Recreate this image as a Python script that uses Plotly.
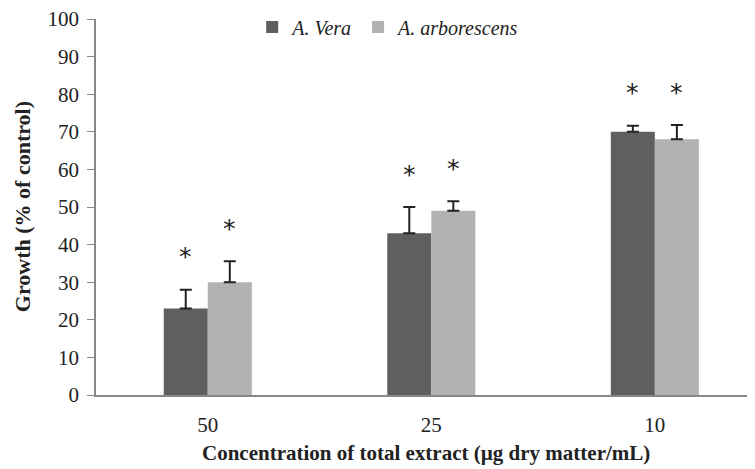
import plotly.graph_objects as go

categories = ["50", "25", "10"]
vera = [23, 43, 70]
vera_err = [5, 7, 1.6]
arbo = [30, 49, 68]
arbo_err = [5.6, 2.5, 3.8]
y_ticks = [0, 10, 20, 30, 40, 50, 60, 70, 80, 90, 100]

xpos = list(range(len(categories)))
font_serif = "Liberation Serif"

fig = go.Figure()
fig.add_trace(go.Bar(
    x=xpos, y=vera, name="<i>A. Vera</i>",
    marker=dict(color="#5f5f5f", line=dict(width=0)),
    error_y=dict(type="data", array=vera_err, symmetric=False, arrayminus=[0]*3,
                 color="#222222", thickness=2, width=6),
))
fig.add_trace(go.Bar(
    x=xpos, y=arbo, name="<i>A. arborescens</i>",
    marker=dict(color="#b2b2b2", line=dict(width=0)),
    error_y=dict(type="data", array=arbo_err, symmetric=False, arrayminus=[0]*3,
                 color="#222222", thickness=2, width=6),
))

# significance asterisks above each error bar
offset = 0.0985
for i in xpos:
    for dx, v, e in ((-offset, vera[i], vera_err[i]), (offset, arbo[i], arbo_err[i])):
        fig.add_annotation(x=i + dx, y=v + e, text="*", showarrow=False,
                           yshift=33, font=dict(family="DejaVu Sans", size=25, color="#222222"))

# axis titles
fig.add_annotation(xref="paper", yref="paper", x=0.5, y=-0.118, yanchor="top",
                   text="<b>Concentration of total extract (µg dry matter/mL)</b>",
                   showarrow=False, font=dict(family=font_serif, size=21, color="#222222"))
fig.add_annotation(xref="paper", yref="paper", x=-0.112, y=0.5, xanchor="center",
                   text="<b>Growth (% of control)</b>", textangle=-90,
                   showarrow=False, font=dict(family=font_serif, size=22, color="#222222"))

fig.update_layout(
    width=747, height=461,
    margin=dict(l=88, r=0, t=11, b=74, autoexpand=False),
    paper_bgcolor="white", plot_bgcolor="white",
    barmode="group", bargap=0.606, bargroupgap=0,
    font=dict(family=font_serif, size=15, color="#222222"),
    showlegend=True,
    legend=dict(orientation="h", x=0.237, y=0.979, xanchor="left", yanchor="middle",
                font=dict(family=font_serif, size=20, color="#222222"),
                bgcolor="rgba(0,0,0,0)", itemwidth=30, tracegroupgap=0),
    xaxis=dict(
        tickmode="array", tickvals=xpos, ticktext=categories,
        range=[-0.5, 2.448], showline=True, linecolor="#888888", linewidth=1.5,
        ticks="", showgrid=False, zeroline=False, automargin=False,
        tickfont=dict(family=font_serif, size=21), ticklabelstandoff=10,
        ticklabeloverflow="allow",
    ),
    yaxis=dict(
        range=[0, 100], tickvals=y_ticks, showline=True, linecolor="#888888", linewidth=1.5,
        ticks="outside", ticklen=7, tickcolor="#888888", showgrid=False, zeroline=False,
        automargin=False, tickfont=dict(family=font_serif, size=21), ticklabelstandoff=4,
        ticklabeloverflow="allow",
    ),
)

fig.write_html("out.html")
